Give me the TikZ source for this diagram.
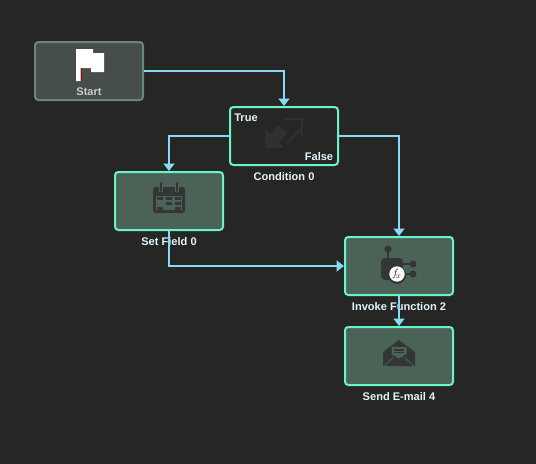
\documentclass[tikz,border=0pt]{standalone}
\usepackage{fontspec}
\setmainfont{Liberation Sans}
\usepackage{xcolor}
\usetikzlibrary{arrows.meta}
\definecolor{bgcol}{HTML}{262724}
\definecolor{stepcol}{HTML}{4B6257}
\definecolor{edgecol}{HTML}{6AF2C9}
\definecolor{startcol}{HTML}{454E4B}
\definecolor{startedge}{HTML}{6A8580}
\definecolor{startlabel}{HTML}{C9CDCC}
\definecolor{linkcol}{HTML}{86DCF8}
\definecolor{iconcol}{HTML}{343537}
\definecolor{condicon}{HTML}{303031}
\definecolor{labelcol}{HTML}{E4F2FA}
\tikzset{
  stepbox/.style={draw=edgecol, fill=stepcol, line width=1.5pt, rounded corners=2.5pt, minimum width=81pt, minimum height=43.5pt, inner sep=0pt},
  startbox/.style={stepbox, draw=startedge, fill=startcol},
  condbox/.style={stepbox, fill=bgcol},
  steplabel/.style={font=\fontsize{8.3}{10}\selectfont\bfseries, text=labelcol, inner sep=0pt},
  link/.style={draw=linkcol, line width=1.5pt, -{Triangle[width=8pt,length=5.5pt]}},
  icon/.style={fill=iconcol, draw=none},
}
\begin{document}
\begin{tikzpicture}[x=0.75pt, y=-0.75pt]
\fill[bgcol] (0,0) rectangle (536,464);
\useasboundingbox (0,0) rectangle (536,464);
% boxes
\node[startbox] (start) at (89,71) {};
\node[condbox] (cond) at (284,136) {};
\node[stepbox] (setfield) at (169,201) {};
\node[stepbox] (invoke) at (399,266) {};
\node[stepbox] (email) at (399,356) {};
% labels
\node[steplabel, text=startlabel] (startname) at (89,92) {Start};
\node[steplabel] (condtrue) at (246,118) {True};
\node[steplabel] (condfalse) at (319,157) {False};
\node[steplabel] (condname) at (284,177) {Condition 0};
\node[steplabel] (setname) at (169,242) {Set Field 0};
\node[steplabel] (invokename) at (399,307) {Invoke Function 2};
\node[steplabel] (emailname) at (399,397) {Send E-mail 4};
% flag
\fill[white] (76,49) -- (93,49) -- (93,53) -- (104,53) -- (104,72) -- (91,72) -- (91,68) -- (80.5,68) -- (80.5,81) -- (76,81) -- cycle;
\draw[red!70!black, line width=0.5pt] (81,68) -- (81,81);
% condition arrows
\fill[condicon] (265,148) -- (265,128) -- (270.3,133.8) -- (278.8,125.3) -- (287.2,133.7) -- (278.7,142.2) -- (284,148) -- cycle;
\draw[condicon, line width=1.6pt] (287,143) -- (301,129);
\draw[condicon, line width=1.6pt] (284,119) -- (302,119) -- (302,137);
% calendar
\fill[icon, rounded corners=2pt] (153,187) rectangle (185,213);
\draw[stepcol, line width=3.2pt] (161,184) -- (161,192) (177,184) -- (177,192);
\draw[iconcol, line width=1.3pt, line cap=round] (161,183) -- (161,191) (177,183) -- (177,191);
\fill[stepcol] (156,196) rectangle (182,210);
\foreach \cx/\cy in {157/196.5, 166/196.5, 175/196.5, 166/201.5, 175/201.5, 157/206.5, 175/206.5}
  \fill[iconcol] (\cx,\cy) rectangle (\cx+6,\cy+3);
% function
\fill[icon, rounded corners=3pt] (381,258) rectangle (403,280);
\draw[iconcol, line width=1pt] (388,249) -- (388,258);
\draw[iconcol, line width=1pt] (403,264) -- (413,264) (403,274) -- (413,274);
\fill[icon] (388,249) circle (3.5);
\fill[icon] (413,264) circle (3.5);
\fill[icon] (413,274) circle (3.5);
\fill[iconcol] (397,275) circle (9);
\node[circle, fill=white, minimum size=11.5pt, inner sep=0pt, text=iconcol, font=\fontsize{8}{9}\selectfont] (fxbadge) at (397,274) {$f_{\!x}$};
% envelope
\fill[icon] (399,340) -- (415,352) -- (415,366) -- (383,366) -- (383,352) -- cycle;
\fill[stepcol] (391.5,347) -- (406.5,347) -- (406.5,354) -- (399,358.5) -- (391.5,354) -- cycle;
\draw[iconcol, line width=0.8pt] (394,350) -- (404,350) (394,352.5) -- (404,352.5);
\draw[stepcol, line width=0.6pt] (384,366) -- (393,358) (414,366) -- (405,358);
% connectors
\draw[link] (start.east) -| (cond.north);
\draw[link] (cond.west) -| (setfield.north);
\draw[link] (cond.east) -| (invoke.north);
\draw[link] (setfield.south) |- (invoke.west);
\draw[link] (invoke.south) -- (email.north);
\end{tikzpicture}
\end{document}
